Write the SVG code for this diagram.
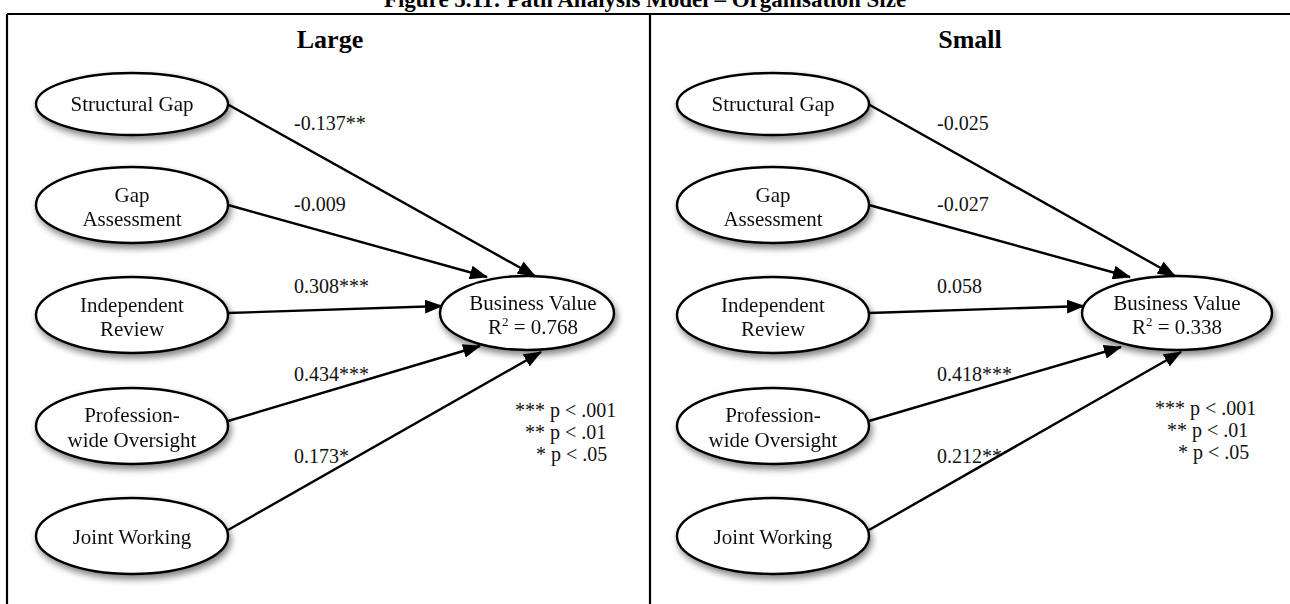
<svg xmlns="http://www.w3.org/2000/svg" width="1290" height="604" viewBox="0 0 1290 604">
  <style>
    .title { font-family: "Liberation Serif", "Times New Roman", serif; font-weight: bold; fill: #000; }
    .node ellipse { fill: #fff; stroke: #000; stroke-width: 2.4; }
    .node text { font-family: "Liberation Serif", "Times New Roman", serif; font-size: 21px; fill: #111; text-anchor: middle; }
    .coef { font-family: "Liberation Serif", "Times New Roman", serif; font-size: 20px; fill: #111; }
    .legend { font-family: "Liberation Serif", "Times New Roman", serif; font-size: 20px; fill: #111; }
    .frame { stroke: #000; stroke-width: 2.2; fill: none; }
    #connectors line { stroke: #000; stroke-width: 2.4; marker-end: url(#arrow); }
  </style>
  <defs>
    <filter id="soft-shadow" x="-20%" y="-30%" width="140%" height="170%">
      <feGaussianBlur in="SourceAlpha" stdDeviation="3.5"/>
      <feOffset dx="2" dy="4" result="blur"/>
      <feComponentTransfer><feFuncA type="linear" slope="0.5"/></feComponentTransfer>
      <feMerge><feMergeNode/><feMergeNode in="SourceGraphic"/></feMerge>
    </filter>
    <marker id="arrow" viewBox="0 0 18 14" refX="17" refY="7" markerWidth="18" markerHeight="14" markerUnits="userSpaceOnUse" orient="auto">
      <path d="M0,0 L18,7 L0,14 Z" fill="#000"/>
    </marker>
  </defs>

  <rect width="1290" height="604" fill="#fff"/>

  <!-- figure caption, clipped by the top edge -->
  <text class="title" x="645" y="7" font-size="23" text-anchor="middle">Figure 5.11: Path Analysis Model – Organisation Size</text>

  <!-- table frame -->
  <g id="frame">
    <line class="frame" x1="7" y1="14" x2="1290" y2="14"/>
    <line class="frame" x1="7" y1="14" x2="7" y2="604"/>
    <line class="frame" x1="650" y1="14" x2="650" y2="604"/>
  </g>

  <text class="title" x="330" y="48" font-size="26" text-anchor="middle">Large</text>
  <text class="title" x="970" y="48" font-size="26" text-anchor="middle">Small</text>

  <!-- paths -->
  <g id="connectors">
    <!-- Large -->
    <line x1="227" y1="104" x2="535" y2="276"/>
    <line x1="228" y1="205" x2="487" y2="277"/>
    <line x1="228" y1="313" x2="442" y2="306"/>
    <line x1="228" y1="421" x2="480" y2="346"/>
    <line x1="228" y1="530" x2="541" y2="352"/>
    <!-- Small -->
    <line x1="868" y1="104" x2="1175" y2="276"/>
    <line x1="869" y1="205" x2="1130" y2="277"/>
    <line x1="869" y1="313" x2="1084" y2="306"/>
    <line x1="869" y1="421" x2="1121" y2="347"/>
    <line x1="869" y1="530" x2="1181" y2="352"/>
  </g>

  <!-- Large: predictors -->
  <g id="large-structural-gap" class="node" filter="url(#soft-shadow)">
    <ellipse cx="132" cy="104" rx="96" ry="31"/>
    <text x="132" y="111">Structural Gap</text>
  </g>
  <g id="large-gap-assessment" class="node" filter="url(#soft-shadow)">
    <ellipse cx="132" cy="205" rx="96" ry="38"/>
    <text x="132" y="202">Gap</text>
    <text x="132" y="226">Assessment</text>
  </g>
  <g id="large-independent-review" class="node" filter="url(#soft-shadow)">
    <ellipse cx="132" cy="315" rx="96" ry="38"/>
    <text x="132" y="312">Independent</text>
    <text x="132" y="336">Review</text>
  </g>
  <g id="large-profession-wide-oversight" class="node" filter="url(#soft-shadow)">
    <ellipse cx="132" cy="426" rx="96" ry="38"/>
    <text x="132" y="422">Profession-</text>
    <text x="132" y="447">wide Oversight</text>
  </g>
  <g id="large-joint-working" class="node" filter="url(#soft-shadow)">
    <ellipse cx="132" cy="536" rx="96" ry="38"/>
    <text x="132" y="544">Joint Working</text>
  </g>
  <g id="large-business-value" class="node" filter="url(#soft-shadow)">
    <ellipse cx="527" cy="313" rx="87" ry="37"/>
    <text x="533" y="310">Business Value</text>
    <text x="533" y="334">R<tspan font-size="13" dy="-8">2</tspan><tspan dy="8"> = 0.768</tspan></text>
  </g>

  <!-- Large: coefficients -->
  <g id="large-coefficients">
    <text class="coef" x="294" y="130">-0.137**</text>
    <text class="coef" x="294" y="211">-0.009</text>
    <text class="coef" x="294" y="293">0.308***</text>
    <text class="coef" x="294" y="381">0.434***</text>
    <text class="coef" x="294" y="463">0.173*</text>
  </g>
  <g id="large-legend">
    <text class="legend" x="515" y="417">*** p &lt; .001</text>
    <text class="legend" x="525" y="439">** p &lt; .01</text>
    <text class="legend" x="536" y="461">* p &lt; .05</text>
  </g>

  <!-- Small: predictors -->
  <g id="small-structural-gap" class="node" filter="url(#soft-shadow)">
    <ellipse cx="773" cy="104" rx="96" ry="31"/>
    <text x="773" y="111">Structural Gap</text>
  </g>
  <g id="small-gap-assessment" class="node" filter="url(#soft-shadow)">
    <ellipse cx="773" cy="205" rx="96" ry="38"/>
    <text x="773" y="202">Gap</text>
    <text x="773" y="226">Assessment</text>
  </g>
  <g id="small-independent-review" class="node" filter="url(#soft-shadow)">
    <ellipse cx="773" cy="315" rx="96" ry="38"/>
    <text x="773" y="312">Independent</text>
    <text x="773" y="336">Review</text>
  </g>
  <g id="small-profession-wide-oversight" class="node" filter="url(#soft-shadow)">
    <ellipse cx="773" cy="426" rx="96" ry="38"/>
    <text x="773" y="422">Profession-</text>
    <text x="773" y="447">wide Oversight</text>
  </g>
  <g id="small-joint-working" class="node" filter="url(#soft-shadow)">
    <ellipse cx="773" cy="536" rx="96" ry="38"/>
    <text x="773" y="544">Joint Working</text>
  </g>
  <g id="small-business-value" class="node" filter="url(#soft-shadow)">
    <ellipse cx="1177" cy="313" rx="95" ry="37"/>
    <text x="1177" y="310">Business Value</text>
    <text x="1177" y="334">R<tspan font-size="13" dy="-8">2</tspan><tspan dy="8"> = 0.338</tspan></text>
  </g>

  <!-- Small: coefficients -->
  <g id="small-coefficients">
    <text class="coef" x="937" y="130">-0.025</text>
    <text class="coef" x="937" y="211">-0.027</text>
    <text class="coef" x="937" y="293">0.058</text>
    <text class="coef" x="937" y="381">0.418***</text>
    <text class="coef" x="937" y="463">0.212**</text>
  </g>
  <g id="small-legend">
    <text class="legend" x="1155" y="415">*** p &lt; .001</text>
    <text class="legend" x="1167" y="437">** p &lt; .01</text>
    <text class="legend" x="1178" y="459">* p &lt; .05</text>
  </g>
</svg>
